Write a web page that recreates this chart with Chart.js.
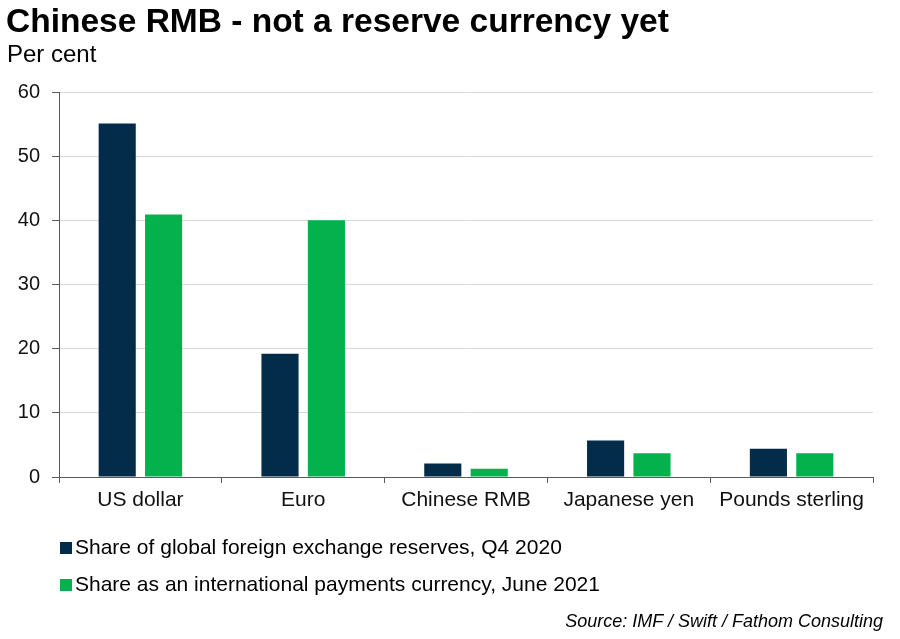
<!DOCTYPE html>
<html>
<head>
<meta charset="utf-8">
<script src="https://cdn.jsdelivr.net/npm/chart.js@4"></script>
<style>
  html, body { margin:0; padding:0; background:#fff; }
  body { width:900px; height:639px; position:relative; overflow:hidden; font-family:"Liberation Sans", Arial, sans-serif; color:#000; }
  #title { position:absolute; left:6px; top:2px; font-size:33.5px; font-weight:bold; }
  #sub { position:absolute; left:7px; top:40px; font-size:24px; }
  #wrap { position:absolute; left:0; top:0; width:900px; height:639px; }
  #legend { position:absolute; left:60px; top:535px; font-size:21px; }
  #legend .row { height:37px; display:flex; align-items:flex-start; }
  #legend .sw { width:12px; height:12px; margin-top:7px; margin-right:3px; }
  #source { position:absolute; right:17px; top:611px; font-size:18px; font-style:italic; }
</style>
</head>
<body>
<div id="wrap"><canvas id="c" width="900" height="639"></canvas></div>
<div id="title">Chinese RMB - not a reserve currency yet</div>
<div id="sub">Per cent</div>
<div id="legend"></div>
<div id="source">Source: IMF / Swift / Fathom Consulting</div>
<script>
const categories = ["US dollar", "Euro", "Chinese RMB", "Japanese yen", "Pounds sterling"];
const reserves = [55.1, 19.2, 2.1, 5.7, 4.4];
const payments = [40.9, 40.0, 1.3, 3.7, 3.7];
const seriesLabels = ["Share of global foreign exchange reserves, Q4 2020", "Share as an international payments currency, June 2021"];
const seriesColors = ["#032b4a", "#05b14c"];
const yTicks = [0, 10, 20, 30, 40, 50, 60];

const ctx = document.getElementById('c').getContext('2d');
new Chart(ctx, {
  type: 'bar',
  data: {
    labels: categories,
    datasets: [
      { label: seriesLabels[0], data: reserves, backgroundColor: seriesColors[0], categoryPercentage: 0.57, barPercentage: 0.8 },
      { label: seriesLabels[1], data: payments, backgroundColor: seriesColors[1], categoryPercentage: 0.57, barPercentage: 0.8 }
    ]
  },
  options: {
    responsive: false,
    animation: false,
    layout: { padding: { left: 0, right: 27, top: 92, bottom: 0 } },
    plugins: { legend: { display: false }, tooltip: { enabled: false } },
    scales: {
      x: {
        offset: true,
        grid: { offset: true, drawOnChartArea: false, drawTicks: true, tickLength: 6, color: '#595959', tickColor: '#595959' },
        border: { color: '#595959', width: 1 },
        ticks: { color: '#111', font: { family: '"Liberation Sans", Arial', size: 21 }, padding: 5, maxRotation: 0 },
        afterFit: s => { s.height = 639 - 477; }
      },
      y: {
        min: 0, max: 60,
        afterBuildTicks: s => { s.ticks = yTicks.map(v => ({ value: v })); },
        grid: { color: '#d9d9d9', tickColor: '#595959', tickLength: 7, drawTicks: true },
        border: { color: '#595959', width: 1 },
        ticks: { color: '#111', font: { family: '"Liberation Sans", Arial', size: 20 }, padding: 12 },
        afterFit: s => { s.width = 59; }
      }
    }
  }
});

const lg = document.getElementById('legend');
seriesLabels.forEach((l, i) => {
  const r = document.createElement('div'); r.className = 'row';
  const sw = document.createElement('div'); sw.className = 'sw'; sw.style.background = seriesColors[i];
  const t = document.createElement('span'); t.textContent = l;
  r.appendChild(sw); r.appendChild(t); lg.appendChild(r);
});
</script>
</body>
</html>
